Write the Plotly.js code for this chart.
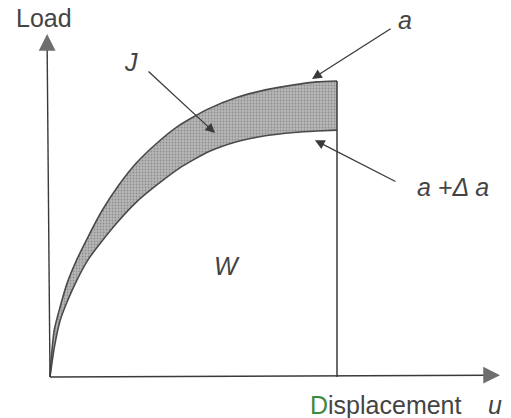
<!DOCTYPE html>
<html>
<head>
<meta charset="utf-8">
<script src="https://cdn.plot.ly/plotly-3.0.1.min.js"></script>
<style>
  html, body { margin: 0; padding: 0; background: #fff; }
  #chart { width: 511px; height: 418px; }
</style>
</head>
<body>
<div id="chart"></div>
<script>
// Load–displacement curves for crack length a and a + Δa (displacement normalised to u_max = 1)
const disp = [0, 0.005, 0.015, 0.035, 0.06, 0.095, 0.135, 0.18, 0.235, 0.30, 0.37, 0.45, 0.55, 0.65, 0.75, 0.85, 0.93, 1.0];
const loadA = [0, 0.07, 0.16, 0.236, 0.318, 0.40, 0.478, 0.56, 0.642, 0.722, 0.788, 0.850, 0.905, 0.944, 0.970, 0.987, 0.997, 1.0];
const loadAda = [0, 0.035, 0.10, 0.19, 0.255, 0.33, 0.40, 0.458, 0.523, 0.59, 0.647, 0.705, 0.760, 0.795, 0.815, 0.826, 0.831, 0.834];

// Final displacement where the unloading line drops to the axis
const uMax = 1.0;

const ink = '#3a3a3a';
const headInk = '#6e6e6e';
const font = { family: 'Liberation Sans, Arial, sans-serif', size: 25, color: '#444' };

const traces = [
  {
    x: disp, y: loadAda, mode: 'lines',
    line: { color: '#4a4a4a', width: 1.6, shape: 'spline', smoothing: 0.6 },
    hoverinfo: 'skip', showlegend: false
  },
  {
    x: disp, y: loadA, mode: 'lines',
    line: { color: '#4a4a4a', width: 1.6, shape: 'spline', smoothing: 0.6 },
    fill: 'tonexty',
    fillcolor: '#aaaaaa',
    fillpattern: { shape: '.', bgcolor: '#b8b8b8', fgcolor: '#8e8e8e', size: 3, solidity: 0.3 },
    hoverinfo: 'skip', showlegend: false
  },
  {
    // unloading line at u_max, from the upper curve down to the displacement axis
    x: [uMax, uMax], y: [0, loadA[loadA.length - 1]], mode: 'lines',
    line: { color: ink, width: 1.5 },
    hoverinfo: 'skip', showlegend: false
  }
];

// Axis extents in data units
const xTip = 1.568, yTip = 1.159;

function head(x, y, ax, ay) {
  return { x: x, y: y, ax: ax, ay: ay, xref: 'x', yref: 'y', text: '',
           showarrow: true, arrowhead: 2, arrowsize: 2.8, arrowwidth: 1.2,
           arrowcolor: headInk, standoff: 0 };
}
function leader(x0, y0, x1, y1) {
  return { x: x1, y: y1, ax: x0, ay: y0, xref: 'x', yref: 'y', axref: 'x', ayref: 'y',
           text: '', showarrow: true, arrowhead: 2, arrowsize: 1.5, arrowwidth: 1.3,
           arrowcolor: ink, standoff: 0 };
}
function label(text, x, y, italic) {
  return { x: x, y: y, xref: 'x', yref: 'y', text: italic ? '<i>' + text + '</i>' : text,
           showarrow: false, font: font, xanchor: 'center', yanchor: 'middle' };
}

const layout = {
  width: 511, height: 418,
  margin: { l: 0, r: 0, t: 0, b: 0 },
  paper_bgcolor: '#fff', plot_bgcolor: '#fff',
  xaxis: { range: [-50 / 287, 461 / 287], visible: false, fixedrange: true },
  yaxis: { range: [-41 / 296, 377 / 296], visible: false, fixedrange: true },
  shapes: [
    { type: 'line', xref: 'x', yref: 'y', x0: 0, y0: 0, x1: -0.01, y1: yTip - 0.04,
      line: { color: ink, width: 1.4 } },
    { type: 'line', xref: 'x', yref: 'y', x0: 0, y0: 0, x1: xTip - 0.04, y1: 0.006,
      line: { color: ink, width: 1.4 } }
  ],
  annotations: [
    head(-0.01, yTip, 0, 14),
    head(xTip, 0.006, -14, 0),
    leader(0.338, 1.037, 0.575, 0.824),
    leader(1.192, 1.180, 0.913, 1.007),
    leader(1.209, 0.658, 0.923, 0.800),
    label('Load', -0.02, 1.214, false),
    label('J', 0.282, 1.063, true),
    label('a', 1.237, 1.207, true),
    label('a +Δ a', 1.405, 0.642, true),
    label('W', 0.617, 0.374, true),
    { x: 1.17, y: -0.093, xref: 'x', yref: 'y', showarrow: false, font: font,
      text: '<span style="color:#3e8a3e">D</span>isplacement', xanchor: 'center', yanchor: 'middle' },
    label('u', 1.55, -0.093, true)
  ]
};

Plotly.newPlot('chart', traces, layout, { staticPlot: true, displayModeBar: false });
</script>
</body>
</html>
